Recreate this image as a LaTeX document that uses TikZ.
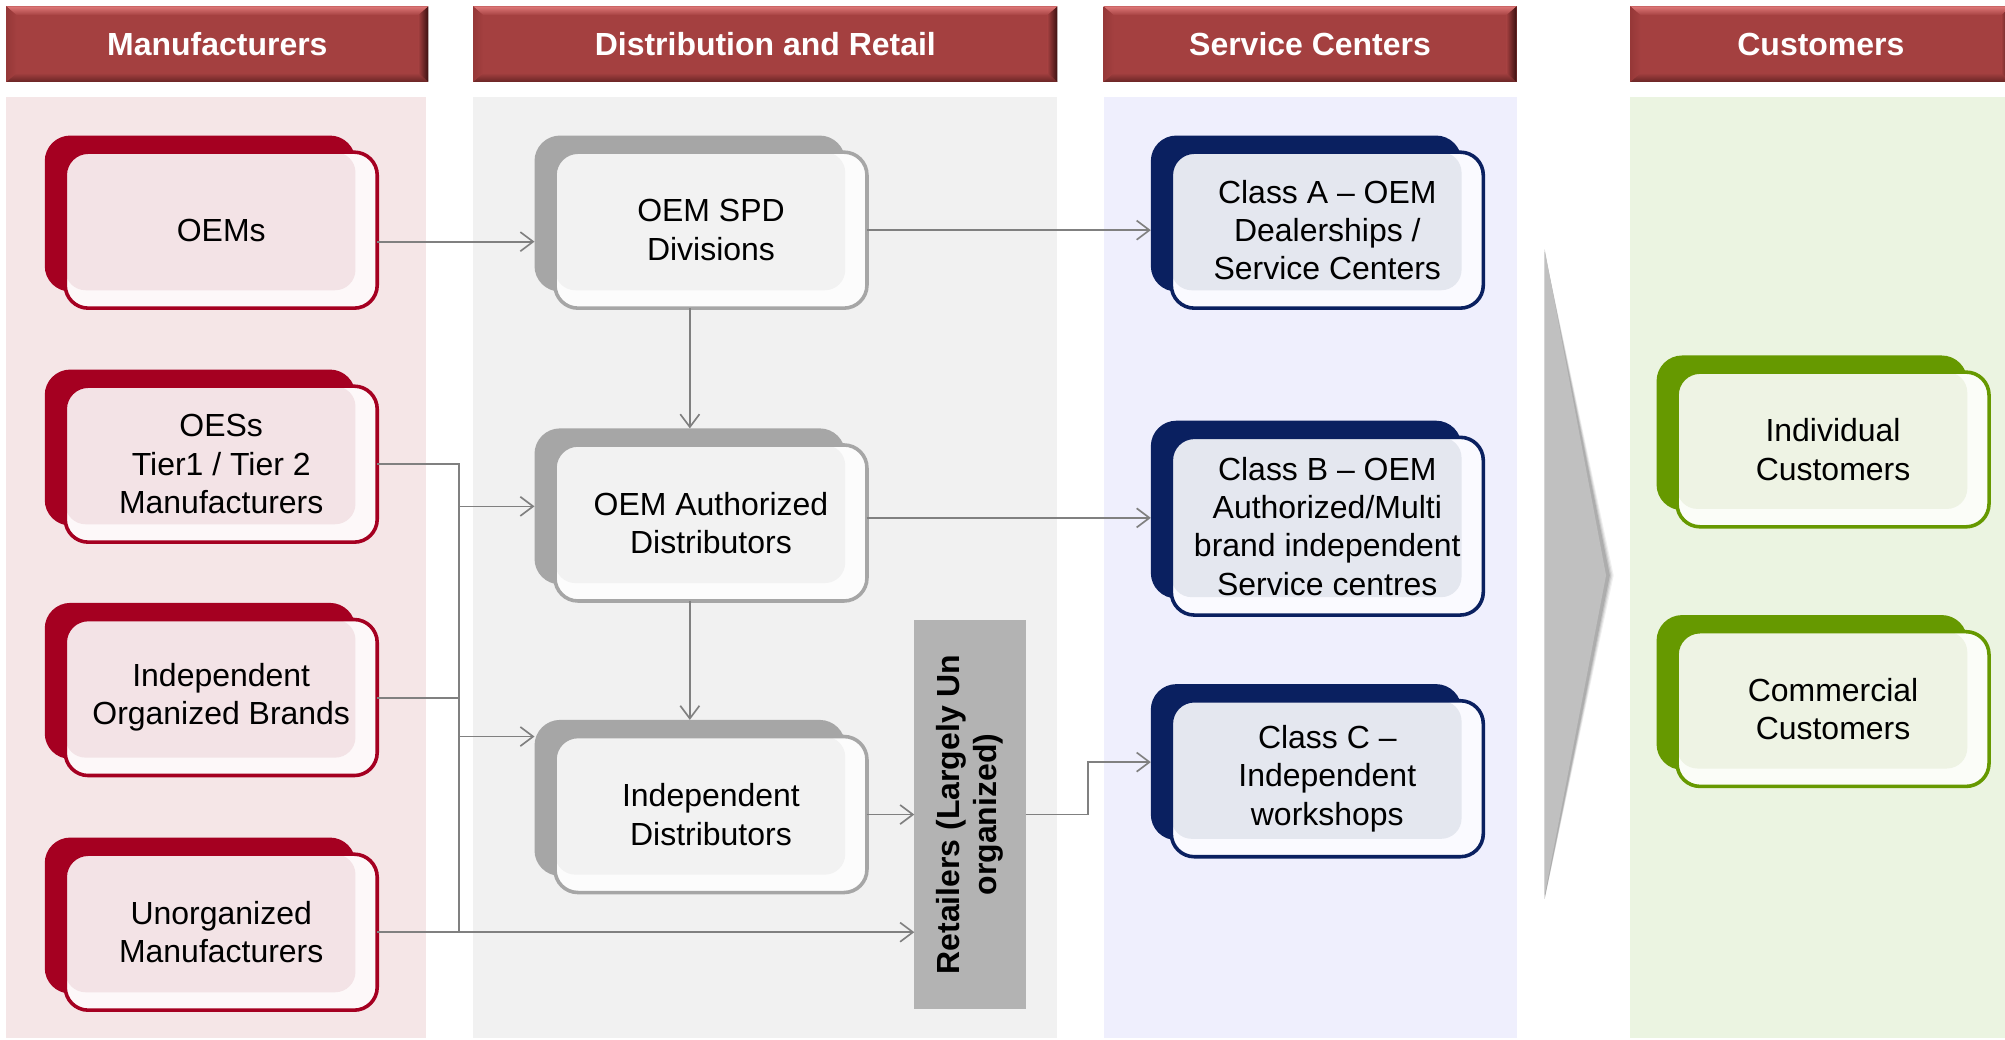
\documentclass[tikz,border=0pt]{standalone}
\usepackage{fontspec}
\setmainfont{Liberation Sans}
\usetikzlibrary{arrows.meta,calc}
\definecolor{redmain}{HTML}{A50021}
\definecolor{redin}{HTML}{F3E3E6}
\definecolor{redout}{HTML}{FDF8F9}
\definecolor{grymain}{HTML}{A6A6A6}
\definecolor{gryin}{HTML}{F2F2F2}
\definecolor{gryout}{HTML}{FCFCFC}
\definecolor{navmain}{HTML}{0A2060}
\definecolor{navin}{HTML}{E4E7EF}
\definecolor{navout}{HTML}{FAFAFF}
\definecolor{grnmain}{HTML}{669900}
\definecolor{grnin}{HTML}{EEF3E4}
\definecolor{grnout}{HTML}{FBFDF8}
\definecolor{pone}{HTML}{F5E6E7}
\definecolor{ptwo}{HTML}{F1F1F1}
\definecolor{pthree}{HTML}{EFEFFD}
\definecolor{pfour}{HTML}{EBF4E1}
\definecolor{hdr}{HTML}{A44040}
\definecolor{hdrlight}{HTML}{DE7878}
\definecolor{hdrleft}{HTML}{963838}
\definecolor{hdrbot}{HTML}{6A2626}
\definecolor{hdrdark}{HTML}{3A1010}
\definecolor{linec}{HTML}{808080}
\definecolor{retail}{HTML}{B3B3B3}
\definecolor{bigarrow}{HTML}{C0C0C0}
\tikzset{
  shadowbox/.style={rounded corners=20pt, inner sep=0pt, outer sep=0pt, minimum width=243pt},
  frontbox/.style={rounded corners=18pt, line width=2.8pt, inner sep=0pt, outer sep=0pt,
    minimum width=244pt, align=center, font=\fontsize{25}{30}\selectfont, text=black,
    path picture={\fill[#1, rounded corners=16pt] (path picture bounding box.north west)
      rectangle ($(path picture bounding box.south east)+(-17pt,14pt)$);}},
  hdrbox/.style={fill=hdr, inner sep=0pt, outer sep=0pt, minimum height=59pt,
    text=white, font=\bfseries\fontsize{25}{30}\selectfont},
  panel/.style={inner sep=0pt, outer sep=0pt, minimum height=736pt},
  conn/.style={draw=linec, line width=1.3pt, -{Straight Barb[length=10pt,width=15pt]}},
  plainline/.style={draw=linec, line width=1.3pt},
}
\newcommand\mkbox[6]{%
  \node[shadowbox, fill=#5main, minimum height=#4pt] (#1s) at ($(#2,#3)+(-16.5,-13)$) {};
  \node[frontbox=#5in, draw=#5main, fill=#5out, minimum height=#4pt] (#1) at (#2,#3) {#6};
}
\newcommand\bevel[1]{%
  \shade[top color=hdrlight, bottom color=hdr] (#1.north west) -- (#1.north east) -- ($(#1.north east)+(-8pt,-7pt)$) -- ($(#1.north west)+(8pt,-7pt)$) -- cycle;
  \shade[top color=hdr, bottom color=hdrbot] ($(#1.south west)+(8pt,7pt)$) -- ($(#1.south east)+(-8pt,7pt)$) -- (#1.south east) -- (#1.south west) -- cycle;
  \shade[left color=hdr, right color=hdrdark] ($(#1.north east)+(-8pt,-7pt)$) -- (#1.north east) -- (#1.south east) -- ($(#1.south east)+(-8pt,7pt)$) -- cycle;
  \shade[left color=hdrleft, right color=hdr] (#1.north west) -- ($(#1.north west)+(8pt,-7pt)$) -- ($(#1.south west)+(8pt,7pt)$) -- (#1.south west) -- cycle;
}
\begin{document}
\begin{tikzpicture}[x=1pt,y=-1pt]
\useasboundingbox[fill=white] (0,0) rectangle (1568,813);
% panels
\node[panel, fill=pone, minimum width=328pt] (p1) at (169,444) {};
\node[panel, fill=ptwo, minimum width=457pt] (p2) at (598.5,444) {};
\node[panel, fill=pthree, minimum width=323pt] (p3) at (1024.5,444) {};
\node[panel, fill=pfour, minimum width=298pt] (p4) at (1424,444) {};
% headers
\node[hdrbox, minimum width=330pt] (h1) at (170,34.5) {};
\node[hdrbox, minimum width=457pt] (h2) at (598.5,34.5) {};
\node[hdrbox, minimum width=323pt] (h3) at (1024.5,34.5) {};
\node[hdrbox, minimum width=298pt] (h4) at (1424,34.5) {};
\bevel{h1}\bevel{h2}\bevel{h3}\bevel{h4}
\node[text=white, font=\bfseries\fontsize{25}{30}\selectfont] (t1) at (h1.center) {Manufacturers};
\node[text=white, font=\bfseries\fontsize{25}{30}\selectfont] (t2) at (h2.center) {Distribution and Retail};
\node[text=white, font=\bfseries\fontsize{25}{30}\selectfont] (t3) at (h3.center) {Service Centers};
\node[text=white, font=\bfseries\fontsize{25}{30}\selectfont] (t4) at (h4.center) {Customers};
% big arrow with soft shadow
\foreach \d/\o in {5/0.06,4/0.08,3/0.10,2/0.12} {
  \fill[black, opacity=\o] (1208,197) -- (1257+\d,450) -- (1208,703) -- cycle;
}
\fill[bigarrow] (1208,195) -- (1256,450) -- (1208,700) -- cycle;
% boxes
\mkbox{oems}{173}{180}{122}{red}{OEMs}
\mkbox{oess}{173}{363}{122}{red}{OESs\\Tier1 / Tier 2\\Manufacturers}
\mkbox{brands}{173}{545.5}{122}{red}{Independent\\Organized Brands}
\mkbox{unorg}{173}{729}{122}{red}{Unorganized\\Manufacturers}
\mkbox{spd}{556}{180}{122}{gry}{OEM SPD\\Divisions}
\mkbox{auth}{556}{409}{122}{gry}{OEM Authorized\\Distributors}
\mkbox{indep}{556}{637}{122}{gry}{Independent\\Distributors}
\mkbox{ca}{1038}{180}{122}{nav}{Class A -- OEM\\Dealerships /\\Service Centers}
\mkbox{cb}{1038}{411.5}{139}{nav}{Class B -- OEM\\Authorized/Multi\\brand independent\\Service centres}
\mkbox{cc}{1038}{609}{122}{nav}{Class C --\\Independent\\workshops}
\mkbox{ind}{1433.5}{351.5}{121}{grn}{Individual\\Customers}
\mkbox{com}{1433.5}{554.5}{121}{grn}{Commercial\\Customers}
% retailers
\node[fill=retail, inner sep=0pt, outer sep=0pt, minimum width=87pt, minimum height=304pt] (ret) at (758.5,637) {};
\node[rotate=90, align=center, font=\bfseries\fontsize{25}{29}\selectfont] (rettext) at (ret.center) {Retailers (Largely Un\\organized)};
% connectors
\coordinate (b1) at (359,363);
\coordinate (b4) at (359,729);
\draw[conn] (oems.east |- 0,189) -- (spds.west |- 0,189);
\draw[conn] (spd.east) -- (cas.west |- spd.east);
\draw[conn] (spds.south |- spd.south) -- (auths.north);
\draw[conn] (auth.east |- 0,405) -- (cbs.west |- 0,405);
\draw[conn] (auths.south |- auth.south) -- (indeps.north);
\draw[conn] (indep.east) -- (ret.west |- indep.east);
\draw[conn] (ret.east) -- ++(49,0) |- (ccs.west);
\draw[plainline] (oess.east |- b1) -- (b1) -- (b4);
\draw[conn] (b1 |- 0,396) -- (auths.west |- 0,396);
\draw[conn] (b1 |- 0,576) -- (indeps.west |- 0,576);
\draw[plainline] (brands.east |- 0,546) -- (b1 |- 0,546);
\draw[conn] (unorg.east |- b4) -- (ret.west |- b4);
\end{tikzpicture}
\end{document}
